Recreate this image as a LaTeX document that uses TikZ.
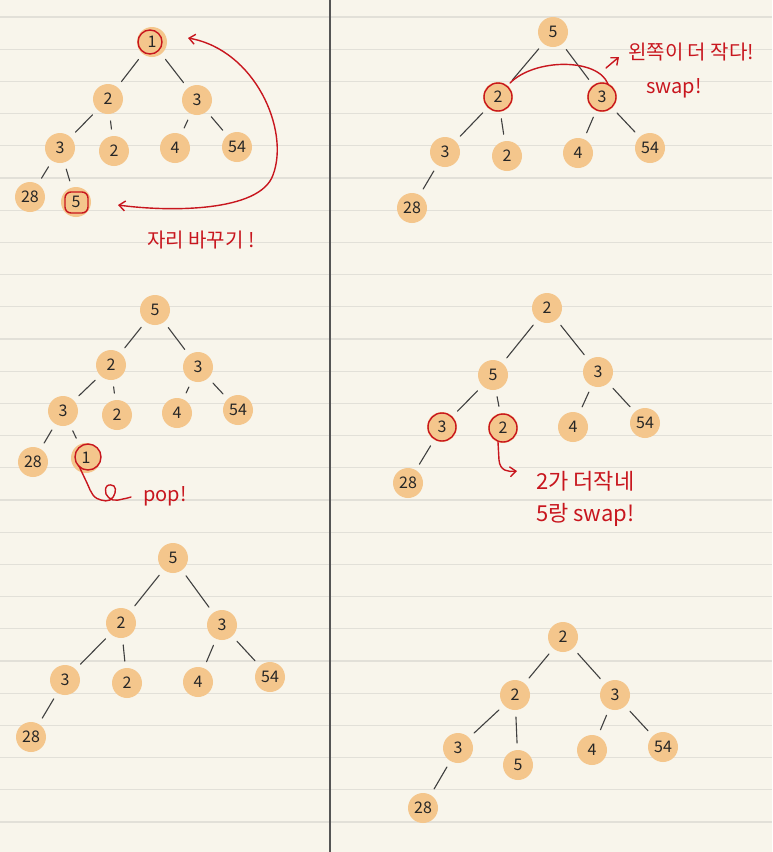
\documentclass[tikz,border=0pt]{standalone}
\usepackage{fontspec}
\setmainfont{Noto Sans CJK KR}
\usetikzlibrary{arrows.meta}
\definecolor{paper}{HTML}{F8F5EB}
\definecolor{rule}{HTML}{E2E0D8}
\definecolor{nodeor}{HTML}{F4C68C}
\definecolor{pen}{HTML}{C8161E}
\definecolor{divider}{HTML}{555555}
\tikzset{
  nd/.style={circle, fill=nodeor, minimum size=30pt, inner sep=0pt, outer sep=7pt,
             font=\fontsize{16}{16}\selectfont, text=black!85},
  edge/.style={draw=black!75, line width=1.1pt, line cap=round},
  redline/.style={draw=pen, line width=1.4pt, line cap=round, line join=round},
  note/.style={text=pen, font=\fontsize{20}{22}\selectfont, inner sep=0pt},
  bignote/.style={note, font=\fontsize{22}{24}\selectfont},
  barb/.style={-{Straight Barb[length=6pt,width=10pt]}},
}
\begin{document}
\begin{tikzpicture}[x=1pt,y=-1pt]
\fill[paper] (0,0) rectangle (772,852);
\useasboundingbox (0,0) rectangle (772,852);
\foreach \k in {0,...,25} {
  \draw[rule, line width=1.3pt] (0,{17+32.2*\k}) -- (772,{17+32.2*\k});
}
\draw[divider, line width=1.5pt] (330,0) -- (330,852);

% ---------- Tree 1 ----------
\node[nd] (a1) at (152,42) {1};
\node[nd] (a2) at (108,99) {2};
\node[nd] (a3) at (197,100) {3};
\node[nd] (a4) at (60,148) {3};
\node[nd] (a5) at (114,151) {2};
\node[nd] (a6) at (175,148) {4};
\node[nd] (a7) at (237,147) {54};
\node[nd] (a8) at (30,197) {28};
\node[nd] (a9) at (76,202) {5};
\draw[edge] (a1) -- (a2); \draw[edge] (a1) -- (a3);
\draw[edge] (a2) -- (a4); \draw[edge] (a2) -- (a5);
\draw[edge] (a3) -- (a6); \draw[edge] (a3) -- (a7);
\draw[edge] (a4) -- (a8); \draw[edge] (a4) -- (a9);
\draw[redline] (a1.center) ++(-2,0) circle (12);
\draw[redline, rounded corners=6pt] (65,192) rectangle (88,213);
\coordinate (t1s) at (188,38);
\coordinate (t1e) at (118,205);
\draw[redline, {Straight Barb[length=6pt,width=10pt]}-{Straight Barb[length=6pt,width=10pt]}]
  (t1s) .. controls (255,50) and (290,130) .. (273,175)
        .. controls (260,212) and (170,212) .. (t1e);
\node[note] (n1) at (201,240) {자리 바꾸기 !};

% ---------- Tree 2 ----------
\node[nd] (b1) at (553,32) {5};
\node[nd] (b2) at (498,97) {2};
\node[nd] (b3) at (602,97) {3};
\node[nd] (b4) at (445,152) {3};
\node[nd] (b5) at (507,156) {2};
\node[nd] (b6) at (578,153) {4};
\node[nd] (b7) at (650,148) {54};
\node[nd] (b8) at (412,208) {28};
\draw[edge] (b1) -- (b2); \draw[edge] (b1) -- (b3);
\draw[edge] (b2) -- (b4); \draw[edge] (b2) -- (b5);
\draw[edge] (b3) -- (b6); \draw[edge] (b3) -- (b7);
\draw[edge] (b4) -- (b8);
\draw[redline] (b2.center) circle (14);
\draw[redline] (b3.center) circle (14);
\coordinate (t2a) at (606,68);
\coordinate (t2b) at (619,57);
\draw[redline] (510,83) .. controls (535,58) and (598,58) .. (608,84);
\draw[redline, barb] (t2a) -- (t2b);
\node[note, anchor=west] (n2) at (628,52) {왼쪽이 더 작다!};
\node[note, anchor=west] (n3) at (646,88) {swap!};

% ---------- Tree 3 ----------
\node[nd] (c1) at (155,310) {5};
\node[nd] (c2) at (111,365) {2};
\node[nd] (c3) at (198,367) {3};
\node[nd] (c4) at (63,411) {3};
\node[nd] (c5) at (117,415) {2};
\node[nd] (c6) at (177,413) {4};
\node[nd] (c7) at (238,410) {54};
\node[nd] (c8) at (33,462) {28};
\node[nd] (c9) at (86,458) {1};
\draw[edge] (c1) -- (c2); \draw[edge] (c1) -- (c3);
\draw[edge] (c2) -- (c4); \draw[edge] (c2) -- (c5);
\draw[edge] (c3) -- (c6); \draw[edge] (c3) -- (c7);
\draw[edge] (c4) -- (c8); \draw[edge] (c4) -- (c9);
\draw[redline] (c9.center) ++(2,-1) circle (13);
\draw[redline] plot[smooth, tension=0.7] coordinates
  {(79,466) (87,483) (93,495) (101,500) (110,500) (115,493) (114,486) (107,486) (106,494) (113,500) (123,499) (131,497)};
\node[note, anchor=west] (n4) at (143,496) {pop!};

% ---------- Tree 4 ----------
\node[nd] (d1) at (547,308) {2};
\node[nd] (d2) at (493,375) {5};
\node[nd] (d3) at (598,372) {3};
\node[nd] (d4) at (442,427) {3};
\node[nd] (d5) at (503,428) {2};
\node[nd] (d6) at (573,427) {4};
\node[nd] (d7) at (645,423) {54};
\node[nd] (d8) at (408,483) {28};
\draw[edge] (d1) -- (d2); \draw[edge] (d1) -- (d3);
\draw[edge] (d2) -- (d4); \draw[edge] (d2) -- (d5);
\draw[edge] (d3) -- (d6); \draw[edge] (d3) -- (d7);
\draw[edge] (d4) -- (d8);
\draw[redline] (d4.center) circle (14);
\draw[redline] (d5.center) circle (14);
\coordinate (t4e) at (517,471);
\draw[redline, barb] (498,442) -- (499,460) .. controls (500,471) and (508,472) .. (t4e);
\node[bignote, anchor=west] (n5) at (536,481) {2가 더작네};
\node[bignote, anchor=west] (n6) at (536,515) {5랑 swap!};

% ---------- Tree 5 ----------
\node[nd] (e1) at (173,558) {5};
\node[nd] (e2) at (121,623) {2};
\node[nd] (e3) at (222,625) {3};
\node[nd] (e4) at (65,680) {3};
\node[nd] (e5) at (127,683) {2};
\node[nd] (e6) at (198,682) {4};
\node[nd] (e7) at (270,677) {54};
\node[nd] (e8) at (31,737) {28};
\draw[edge] (e1) -- (e2); \draw[edge] (e1) -- (e3);
\draw[edge] (e2) -- (e4); \draw[edge] (e2) -- (e5);
\draw[edge] (e3) -- (e6); \draw[edge] (e3) -- (e7);
\draw[edge] (e4) -- (e8);

% ---------- Tree 6 ----------
\node[nd] (f1) at (563,637) {2};
\node[nd] (f2) at (515,695) {2};
\node[nd] (f3) at (615,695) {3};
\node[nd] (f4) at (458,748) {3};
\node[nd] (f5) at (518,765) {5};
\node[nd] (f6) at (592,750) {4};
\node[nd] (f7) at (663,747) {54};
\node[nd] (f8) at (423,808) {28};
\draw[edge] (f1) -- (f2); \draw[edge] (f1) -- (f3);
\draw[edge] (f2) -- (f4); \draw[edge] (f2) -- (f5);
\draw[edge] (f3) -- (f6); \draw[edge] (f3) -- (f7);
\draw[edge] (f4) -- (f8);
\end{tikzpicture}
\end{document}
